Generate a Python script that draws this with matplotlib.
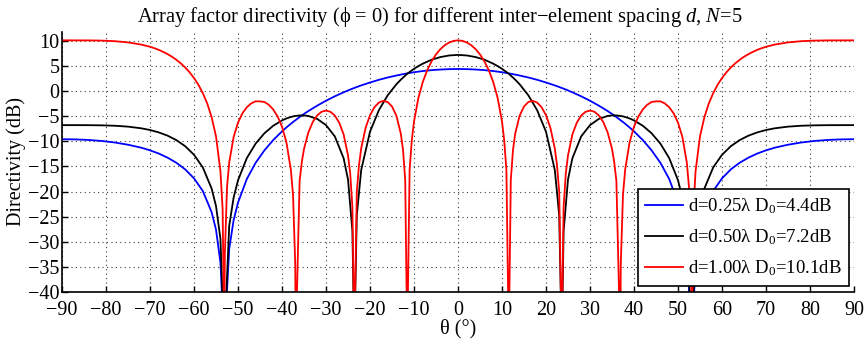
import numpy as np
import matplotlib
matplotlib.use("Agg")
import matplotlib.pyplot as plt

plt.rcParams['font.family'] = ['Liberation Serif', 'DejaVu Serif']
plt.rcParams['mathtext.fontset'] = 'custom'
plt.rcParams['mathtext.rm'] = 'Liberation Serif'
plt.rcParams['mathtext.it'] = 'Liberation Serif:italic'
plt.rcParams['axes.unicode_minus'] = True

# half patterns, theta from 0 to 90 deg (symmetric); nulls set below the axis
theta_half = [0, 2, 4, 6, 8, 9, 10, 11, 11.54, 12, 13, 14, 16, 18, 20, 22, 23, 23.58,
              24, 25, 26, 28, 30, 32, 34, 35, 36, 36.87, 37.5, 38, 39, 40, 42, 44, 46,
              48, 50, 51, 52, 53.13, 54, 55, 56, 58, 60, 62, 64, 66, 68, 70, 72, 75,
              78, 81, 84, 87, 90]

d025 = [4.40, 4.37, 4.29, 4.17, 3.99, 3.87, 3.75, 3.60, 3.53, 3.45, 3.28, 3.10, 2.70,
        2.24, 1.71, 1.13, 0.81, 0.62, 0.48, 0.13, -0.25, -1.04, -1.92, -2.90, -3.97,
        -4.55, -5.17, -5.75, -6.16, -6.51, -7.24, -8.02, -9.75, -11.80, -14.28, -17.5,
        -22.2, -25.7, -31.4, -50, -34.1, -27.6, -24.1, -19.9, -17.38, -15.59, -14.28,
        -13.26, -12.44, -11.80, -11.27, -10.68, -10.24, -9.93, -9.73, -9.62, -9.58]

d050 = [7.20, 7.09, 6.77, 6.25, 5.46, 4.98, 4.43, 3.80, 3.44, 3.08, 2.27, 1.36, -0.86,
        -3.83, -8.09, -15.7, -24.7, -50, -27.9, -17.6, -13.37, -9.02, -6.78, -5.54,
        -4.96, -4.85, -4.85, -4.94, -5.04, -5.16, -5.45, -5.84, -6.90, -8.40, -10.46,
        -13.34, -17.75, -21.2, -26.8, -50, -29.4, -22.9, -19.4, -15.2, -12.69, -10.98,
        -9.77, -8.88, -8.23, -7.75, -7.41, -7.08, -6.90, -6.82, -6.79, -6.78, -6.78]

# d = 1.00 lambda has narrow lobes, so it gets a finer theta grid
theta_half_fine = [0, 1, 2, 3, 4, 5, 6, 7, 8, 9, 10, 10.5, 11, 11.54, 12, 12.5, 13, 14,
                   15, 16, 17, 18, 19, 20, 21, 22, 22.5, 23, 23.58, 24, 24.5, 25, 26,
                   27, 28, 29, 30, 31, 32, 33, 34, 35, 35.5, 36, 36.87, 37, 37.5, 38,
                   39, 40, 41, 42, 43, 44, 45, 46, 47, 48, 49, 50, 51, 52, 52.5, 53,
                   53.13, 53.5, 54, 55, 56, 57, 58, 59, 60, 61, 62, 63, 64, 65, 66, 67,
                   68, 69, 70, 72, 75, 78, 81, 84, 87, 90]

d100 = [10.10, 9.99, 9.67, 9.14, 8.35, 7.30, 5.93, 4.15, 1.82, -1.34, -6.06, -9.76,
        -15.7, -50, -17.7, -11.7, -8.47, -4.91, -3.06, -2.17, -1.94, -2.30, -3.22,
        -4.81, -7.31, -11.4, -14.7, -20.1, -50, -23.1, -16.4, -12.8, -8.63, -6.29,
        -4.87, -4.12, -3.88, -4.11, -4.84, -6.13, -8.2, -11.5, -14.1, -17.9, -50,
        -34.3, -20.6, -15.6, -10.2, -7.09, -5.05, -3.66, -2.73, -2.17, -2.05, -2.04,
        -2.45, -3.22, -4.43, -6.27, -9.14, -14.2, -19.1, -32.7, -50, -23.5, -15.9,
        -9.03, -5.19, -2.47, -0.42, 1.25, 2.59, 3.73, 4.69, 5.51, 6.22, 6.83, 7.35,
        7.80, 8.20, 8.53, 8.82, 9.26, 9.69, 9.93, 10.05, 10.09, 10.10, 10.10]

labels = [r"d=0.25λ $\mathrm{D}_0$=4.4dB",
          r"d=0.50λ $\mathrm{D}_0$=7.2dB",
          r"d=1.00λ $\mathrm{D}_0$=10.1dB"]
colors = ['#0000ff', '#000000', '#ff0000']


def mirror(half, negate=False):
    half = np.asarray(half, dtype=float)
    left = -half[::-1] if negate else half[::-1]
    return np.concatenate([left, half[1:]])


fig = plt.figure(figsize=(8.64, 3.42), dpi=100)
ax = fig.add_axes([0.0718, 0.1462, 0.9166, 0.7608])

series = [(theta_half, d025), (theta_half, d050), (theta_half_fine, d100)]
for (th, vals), lab, c in zip(series, labels, colors):
    ax.plot(mirror(th, negate=True), mirror(vals), color=c, lw=1.3, label=lab)

ax.set_xlim(-90, 90)
ax.set_ylim(-40, 11.8)
ax.set_xticks(np.arange(-90, 91, 10))
ax.set_yticks(np.arange(-40, 11, 5))
ax.tick_params(direction='in', length=4, width=1.0, labelsize=14.5)
ax.tick_params(axis='x', pad=6.5)
ax.tick_params(axis='y', pad=2)
ax.spines['top'].set_visible(False)
ax.spines['right'].set_visible(False)
ax.spines['left'].set_linewidth(1.2)
ax.spines['bottom'].set_linewidth(1.2)
ax.grid(True, linestyle=(0, (1, 3)), color='0.25', lw=0.8)
ax.set_axisbelow(True)

ax.set_xlabel("θ (°)", fontsize=14.5, labelpad=-1)
ax.set_ylabel("Directivity (dB)", fontsize=14.5, labelpad=1)
ax.set_title(r"Array factor directivity (ϕ = 0) for different inter−element spacing "
             r"$\mathit{d}$, $\mathit{N}$=$\mathit{5}$",
             fontsize=14.8, pad=7, x=0.477)

leg = ax.legend(loc='lower right', bbox_to_anchor=(1.0013, 0.003), fontsize=13.5,
                handlelength=2.0, handletextpad=0.3, labelspacing=0.6,
                borderpad=0.4, borderaxespad=0.3,
                fancybox=False, framealpha=1, edgecolor='black')
leg.get_frame().set_linewidth(1.2)

fig.savefig('out.png', dpi=100)
